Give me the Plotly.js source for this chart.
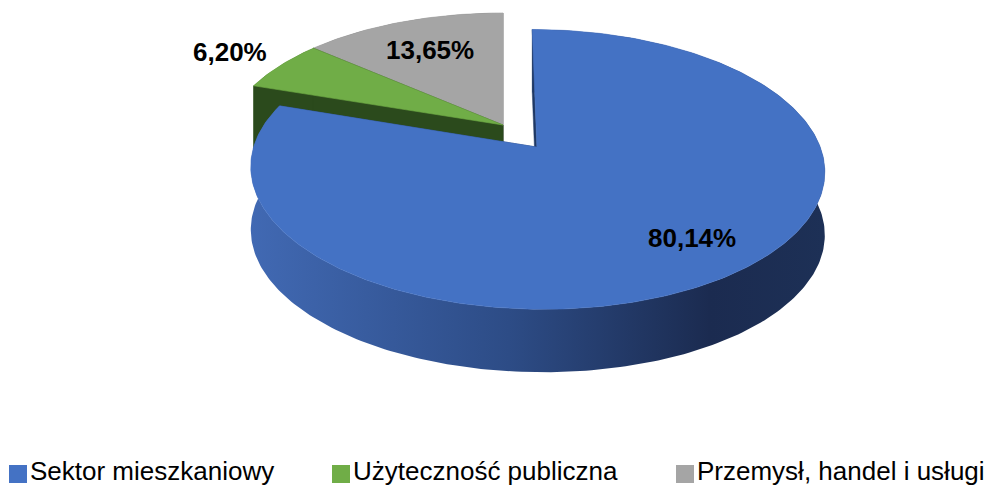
<!DOCTYPE html>
<html><head><meta charset="utf-8">
<script src="https://cdn.plot.ly/plotly-3.0.1.min.js"></script>
<style>html,body{margin:0;padding:0;background:#fff;} #chart{width:995px;height:487px;}</style>
</head><body><div id="chart"></div>
<script>
// ---- data ----
const categories = ['Sektor mieszkaniowy', 'Użyteczność publiczna', 'Przemysł, handel i usługi'];
const shares = [80.14, 6.20, 13.65];
const valueLabels = ['80,14%', '6,20%', '13,65%'];

// ---- styles ----
const topColors = ['#4472C4', '#70AD47', '#A5A5A5'];
const wallColors = ['#1F3864', '#2B4A1C', '#6B6B6B'];
const sideScales = [
  [[0, '#4169B3'], [0.45, '#2D4C86'], [0.8, '#1B2B50'], [1, '#1D3056']],
  [[0, '#3C6A26'], [1, '#2B4A1C']],
  [[0, '#7A7A7A'], [1, '#5A5A5A']]
];
const pulls = [0.205, 0, 0];
const labelRadius = [0.79, 1.25, 0.7];
const labelShift = [6, 0, 0];
const legendX = [9, 332, 676];

// ---- projection of a tilted disc (perspective) ----
const CX = 503, CY = 125, RX = 276, A = 129.4, B = -0.155, DEPTH = 63;
function proj(u, w) { const d = 1 + B * w; return [CX + RX * u / d, CY + A * w / d]; }
const rad = d => d * Math.PI / 180;

const total = shares.reduce((a, b) => a + b, 0);
let cum = 0;
const slices = shares.map((v, i) => {
  const a0 = cum / total * 360; cum += v; const a1 = cum / total * 360;
  const mid = rad((a0 + a1) / 2);
  return { i, a0, a1, ou: pulls[i] * Math.sin(mid), ow: -pulls[i] * Math.cos(mid) };
});

function rimPoint(s, deg, r) {
  const t = rad(deg);
  return proj(s.ou + r * Math.sin(t), s.ow - r * Math.cos(t));
}
function arc(s, a0, a1) {
  const n = Math.max(2, Math.ceil((a1 - a0) / 1));
  const pts = [];
  for (let k = 0; k <= n; k++) pts.push(rimPoint(s, a0 + (a1 - a0) * k / n, 1));
  return pts;
}
function poly(pts, extra) {
  return Object.assign({
    type: 'scatter', mode: 'lines', fill: 'toself', hoverinfo: 'skip', showlegend: false,
    x: pts.map(p => p[0]).concat([pts[0][0]]),
    y: pts.map(p => p[1]).concat([pts[0][1]])
  }, extra);
}

const order = slices.slice().sort((a, b) => (pulls[a.i] - pulls[b.i]) || (b.i - a.i));
const traces = [];
order.forEach(s => {
  const c = proj(s.ou, s.ow);
  const topArc = arc(s, s.a0, s.a1);
  // outer side band
  const bottomArc = topArc.map(p => [p[0], p[1] + DEPTH]).reverse();
  traces.push(poly(topArc.concat(bottomArc), {
    line: { width: 0 },
    fillgradient: { type: 'horizontal', colorscale: sideScales[s.i] }
  }));
  // radial walls
  [s.a0, s.a1].forEach(a => {
    const r = rimPoint(s, a, 1);
    traces.push(poly([c, r, [r[0], r[1] + DEPTH], [c[0], c[1] + DEPTH]], {
      line: { width: 0.5, color: wallColors[s.i] }, fillcolor: wallColors[s.i]
    }));
  });
  // top face
  traces.push(poly([c].concat(topArc), {
    line: { width: 0.6, color: topColors[s.i] }, fillcolor: topColors[s.i]
  }));
});

// value labels
const annotations = slices.map(s => {
  const t = rad((s.a0 + s.a1) / 2);
  const r = labelRadius[s.i];
  const p = proj(s.ou + r * Math.sin(t), s.ow - r * Math.cos(t));
  return {
    x: p[0] + labelShift[s.i], y: p[1] - labelShift[s.i], xref: 'x', yref: 'y', showarrow: false,
    text: '<b>' + valueLabels[s.i] + '</b>',
    font: { family: 'Liberation Sans, Arial, sans-serif', size: 26, color: '#000000' },
    xanchor: 'center', yanchor: 'middle'
  };
});

// legend
const shapes = [];
categories.forEach((name, i) => {
  shapes.push({
    type: 'rect', xref: 'x', yref: 'y', x0: legendX[i], x1: legendX[i] + 18, y0: 465, y1: 483,
    fillcolor: topColors[i], line: { width: 0 }
  });
  annotations.push({
    x: legendX[i] + 20, y: 487, xref: 'x', yref: 'y', showarrow: false, text: name,
    font: { family: 'Liberation Sans, Arial, sans-serif', size: 26, color: '#000000' },
    xanchor: 'left', yanchor: 'bottom', borderpad: 0
  });
});

const layout = {
  width: 995, height: 487,
  margin: { l: 0, r: 0, t: 0, b: 0, pad: 0 },
  paper_bgcolor: '#ffffff', plot_bgcolor: '#ffffff',
  showlegend: false,
  xaxis: { range: [0, 995], visible: false, fixedrange: true },
  yaxis: { range: [487, 0], visible: false, fixedrange: true },
  annotations, shapes
};
Plotly.newPlot('chart', traces, layout, { displayModeBar: false, staticPlot: true });
</script>
</body></html>
